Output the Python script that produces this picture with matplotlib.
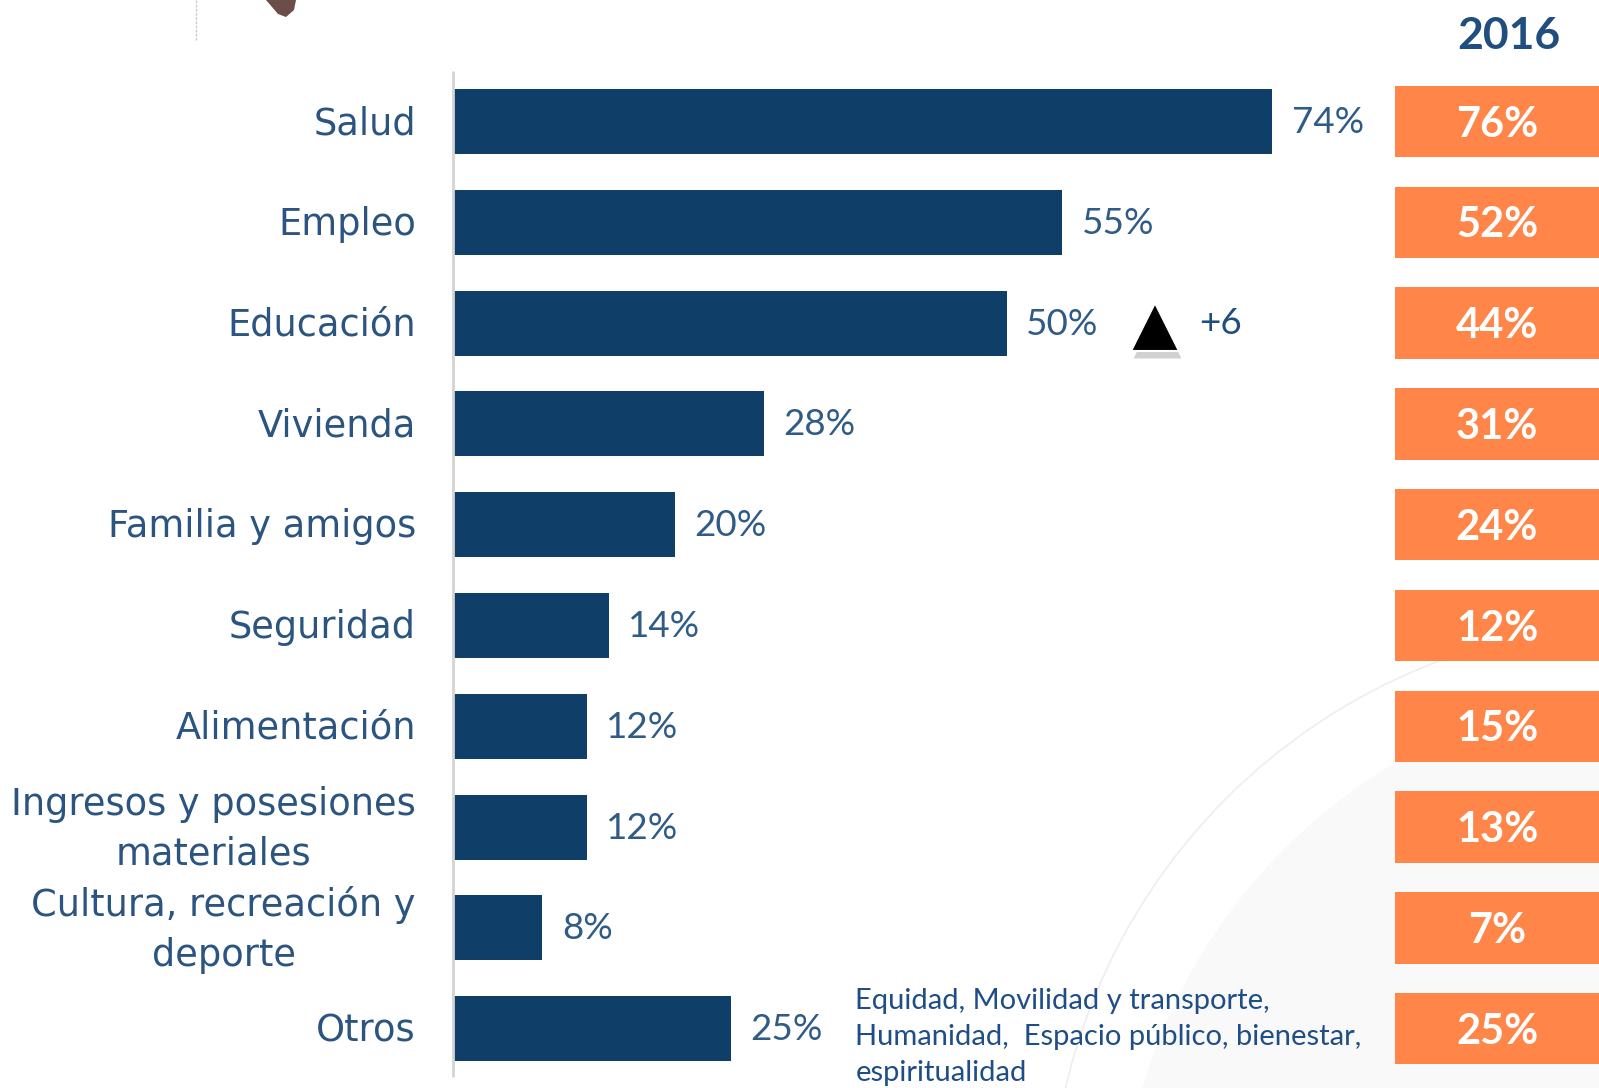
import matplotlib
matplotlib.use("Agg")
import matplotlib.pyplot as plt
from matplotlib.patches import Circle, Polygon

# ---------------- data ----------------
categories = ["Salud", "Empleo", "Educación", "Vivienda", "Familia y amigos",
              "Seguridad", "Alimentación", "Ingresos y posesiones\nmateriales",
              "Cultura, recreación y\ndeporte", "Otros"]
values_current = [74, 55, 50, 28, 20, 14, 12, 12, 8, 25]
values_2016 = [76, 52, 44, 31, 24, 12, 15, 13, 7, 25]
column_title = "2016"
change_index = 2
change_label = "+6"
otros_note = "Equidad, Movilidad y transporte,\nHumanidad,  Espacio público, bienestar,\nespiritualidad"

# ---------------- style ----------------
BAR = "#0F3F69"
VAL = "#2F5B86"
CAT = "#2B5580"
ORANGE = "#FF8549"
TITLE = "#1F4E7F"
NOTE = "#1F4E86"
HUMAN = ["Lato", "DejaVu Sans"]

W, H = 1599, 1088
fig = plt.figure(figsize=(W / 100, H / 100), dpi=100)
fig.patch.set_facecolor("white")

# faint watermark (background decoration)
bg = fig.add_axes([0, 0, 1, 1], zorder=0)
bg.set_xlim(0, W)
bg.set_ylim(H, 0)
bg.axis("off")
bg.add_patch(Circle((1680, 1245), 560, facecolor="#f9f9f9", edgecolor="none"))
bg.add_patch(Circle((1652, 1224), 602, facecolor="none", edgecolor="#eeeeee", lw=1.2))
bg.plot([196, 196], [0, 40], color="#cccccc", lw=1, ls=(0, (2, 1)))
bg.add_patch(Polygon([[266, 0], [296, 0], [294, 10], [286, 17], [278, 14]],
                     closed=True, facecolor="#6B4E4A", edgecolor="none"))

n = len(categories)
px_per_unit = 11.06
x0 = 454
y_center0 = 121.5
y_step = 100.8
ylim = ((H - y_center0) / y_step, -y_center0 / y_step)

# main bars axes
right_px = 1385
ax = fig.add_axes([x0 / W, 0, (right_px - x0) / W, 1], zorder=1)
ax.patch.set_alpha(0)
ax.set_xlim(0, (right_px - x0) / px_per_unit)
ax.set_ylim(*ylim)
ax.axis("off")
ypos = list(range(n))
ax.barh(ypos, values_current, height=65 / y_step, color=BAR, left=0)
ax.plot([-0.1, -0.1], [-0.5, 9.48], color="#d4d4d4", lw=2, clip_on=False,
        solid_capstyle="butt")

for i, (cat, v) in enumerate(zip(categories, values_current)):
    ax.text(-3.45, i + 0.02, cat, ha="right", va="center", multialignment="center",
            fontsize=26.5, color=CAT, family="DejaVu Sans", linespacing=1.45,
            clip_on=False)
    ax.text(v + 1.75, i + 0.01, f"{v}%", ha="left", va="center", fontsize=26.5,
            color=VAL, family=HUMAN)

# change marker
v = values_current[change_index]
mx = v + 13.4
ax.plot([mx + 0.15], [change_index + 0.11], marker="^", ms=34, color="#9a9a9a",
        alpha=0.45, mec="none", linestyle="none")
ax.plot([mx], [change_index + 0.04], marker="^", ms=34, color="black", mec="white",
        mew=1.5, linestyle="none")
ax.text(mx + 4.0, change_index, change_label, ha="left", va="center",
        fontsize=26.5, color=TITLE, family=HUMAN)

# note next to "Otros"
ax.text(36.3, n - 1 + 0.08, otros_note, ha="left", va="center", fontsize=21,
        color=NOTE, family=HUMAN, linespacing=1.47)

# 2016 column
box_left = 1395
ax2 = fig.add_axes([box_left / W, 0, (W - box_left) / W, 1], zorder=1)
ax2.patch.set_alpha(0)
ax2.set_xlim(0, 1)
ax2.set_ylim(*ylim)
ax2.axis("off")
ax2.barh(ypos, [1] * n, height=71.5 / y_step, color=ORANGE, left=0)
for i, v2 in enumerate(values_2016):
    ax2.text(0.5, i + 0.03, f"{v2}%", ha="center", va="center", fontsize=30,
             color="white", fontweight="bold", family=HUMAN)
ax2.text(0.56, -0.85, column_title, ha="center", va="center", fontsize=32,
         color=TITLE, fontweight="bold", family=HUMAN, clip_on=False)

fig.savefig("out.png", dpi=100)
